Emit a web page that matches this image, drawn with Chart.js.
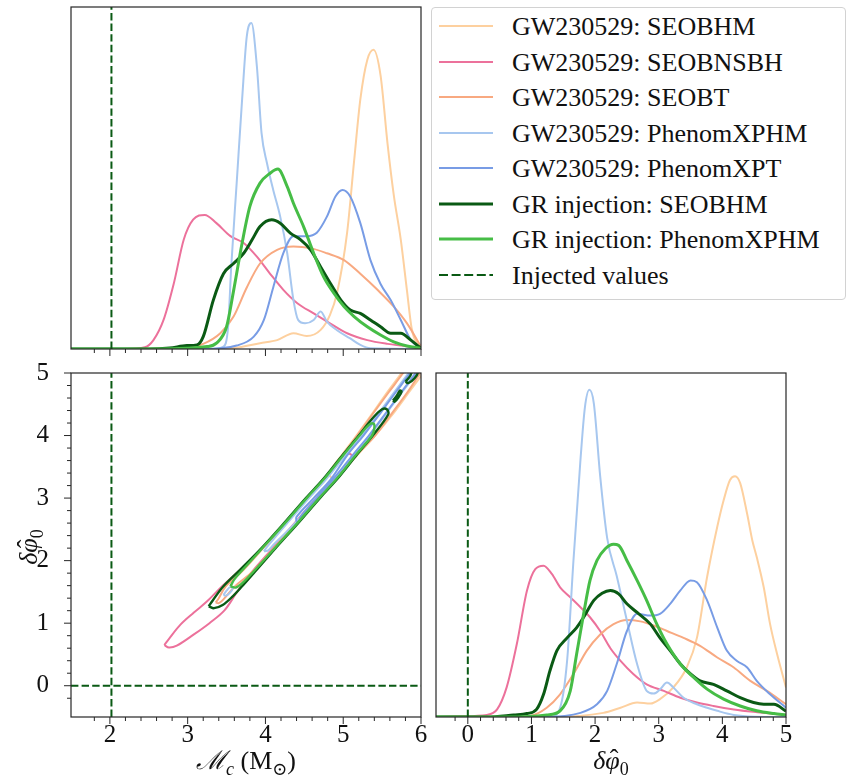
<!DOCTYPE html>
<html>
<head>
<meta charset="utf-8">
<script src="https://cdn.jsdelivr.net/npm/chart.js@4.4.1/dist/chart.umd.min.js"></script>
<style>
  body { margin: 0; background: #fff; }
  #wrap { position: relative; width: 851px; height: 779px; font-family: "Liberation Serif", "DejaVu Serif", serif; }
  #wrap canvas { position: absolute; left: 0; top: 0; }
  #legend { position: absolute; left: 431px; top: 7px; width: 415px; height: 293px; box-sizing: border-box;
            border: 1px solid #d2d2d2; border-radius: 4px; background: #fff; }
  .row { position: absolute; left: 0; height: 36px; display: flex; align-items: center; white-space: nowrap;
         font-size: 26px; color: #111; }
  .row svg { margin-left: 7px; margin-right: 19px; }
  .row span { position: relative; top: 1px; }
</style>
</head>
<body>
<div id="wrap">
  <canvas id="mc" width="851" height="779"></canvas>
  <canvas id="joint" width="851" height="779"></canvas>
  <canvas id="dphi" width="851" height="779"></canvas>
  <div id="legend"></div>
</div>
<script>
// series (legend order)
const seriesNames = ['GW230529: SEOBHM', 'GW230529: SEOBNSBH', 'GW230529: SEOBT', 'GW230529: PhenomXPHM',
                     'GW230529: PhenomXPT', 'GR injection: SEOBHM', 'GR injection: PhenomXPHM'];
const seriesColors = ['#fdd09f', '#ec719b', '#f8a981', '#a7c7ef', '#789ce5', '#0a5a14', '#46bd46'];
const seriesWidths = [2, 2, 2, 2, 2, 3, 3];
const injectedLabel = 'Injected values';
const injectedColor = '#0a5a14';
const injectedMc = 2.02;
const injectedDphi = 0;

const mcRange = [1.5, 6];
const dphiRange = [-0.5, 5];

// 1D marginals of chirp mass: [Mc, density as fraction of panel height]
const mcSeobhm = [[1.5,0],[3.3,0],[3.6,0.003],[3.93,0.017],[4.15,0.026],[4.36,0.046],[4.53,0.038],[4.71,0.056],[4.83,0.10],[4.92,0.163],[5.05,0.34],[5.14,0.55],[5.22,0.73],[5.31,0.846],[5.39,0.875],[5.48,0.80],[5.57,0.60],[5.65,0.45],[5.74,0.32],[5.82,0.17],[5.88,0.06],[5.95,0.015],[6.0,0.005]];
const mcSeobnsbh = [[1.5,0],[2.2,0],[2.45,0.005],[2.56,0.026],[2.69,0.085],[2.82,0.19],[2.95,0.32],[3.07,0.378],[3.22,0.392],[3.37,0.368],[3.55,0.33],[3.72,0.31],[3.89,0.27],[4.06,0.22],[4.23,0.173],[4.41,0.134],[4.62,0.104],[4.83,0.075],[5.05,0.046],[5.31,0.026],[5.57,0.015],[6.0,0.003]];
const mcSeobt = [[1.5,0],[2.9,0],[3.2,0.015],[3.42,0.046],[3.59,0.095],[3.76,0.18],[3.93,0.25],[4.15,0.29],[4.36,0.30],[4.58,0.295],[4.79,0.28],[5.01,0.26],[5.22,0.22],[5.44,0.173],[5.65,0.124],[5.82,0.075],[6.0,0.007]];
const mcXphm = [[1.5,0],[3.3,0],[3.46,0.007],[3.52,0.065],[3.56,0.24],[3.63,0.485],[3.70,0.73],[3.76,0.914],[3.82,0.953],[3.89,0.826],[3.95,0.631],[4.02,0.543],[4.10,0.465],[4.19,0.387],[4.28,0.28],[4.36,0.143],[4.42,0.085],[4.51,0.075],[4.62,0.085],[4.71,0.11],[4.79,0.08],[4.92,0.055],[5.09,0.031],[5.22,0.012],[5.35,0.002],[6.0,0]];
const mcXpt = [[1.5,0],[3.2,0],[3.63,0.01],[3.85,0.036],[3.98,0.085],[4.1,0.18],[4.23,0.28],[4.36,0.33],[4.53,0.33],[4.66,0.34],[4.79,0.387],[4.9,0.446],[4.99,0.465],[5.09,0.446],[5.22,0.368],[5.35,0.26],[5.48,0.19],[5.61,0.143],[5.74,0.085],[5.87,0.026],[6.0,0.002]];
const mcInjSeobhm = [[1.5,0],[2.5,0],[2.77,0.003],[2.99,0.01],[3.12,0.012],[3.2,0.036],[3.33,0.143],[3.46,0.22],[3.59,0.25],[3.72,0.28],[3.83,0.32],[3.93,0.358],[4.08,0.378],[4.19,0.368],[4.32,0.339],[4.45,0.32],[4.58,0.29],[4.71,0.24],[4.84,0.19],[4.97,0.143],[5.09,0.114],[5.22,0.104],[5.35,0.085],[5.48,0.065],[5.61,0.046],[5.74,0.046],[5.87,0.026],[6.0,0.002]];
const mcInjXphm = [[1.5,0],[2.6,0],[3.25,0.007],[3.37,0.017],[3.5,0.065],[3.59,0.17],[3.7,0.31],[3.8,0.417],[3.93,0.485],[4.06,0.514],[4.16,0.526],[4.28,0.475],[4.36,0.426],[4.49,0.358],[4.62,0.28],[4.75,0.21],[4.88,0.163],[5.01,0.124],[5.14,0.095],[5.31,0.065],[5.48,0.041],[5.65,0.021],[5.82,0.009],[6.0,0.002]];

// 1D marginals of delta phi_0
const dpSeobhm = [[-0.5,0],[1.3,0],[2.13,0.012],[2.4,0.027],[2.66,0.042],[2.87,0.039],[3.02,0.052],[3.23,0.086],[3.44,0.144],[3.6,0.23],[3.76,0.407],[3.92,0.553],[4.02,0.63],[4.12,0.689],[4.2,0.70],[4.28,0.68],[4.39,0.59],[4.47,0.514],[4.54,0.465],[4.65,0.377],[4.75,0.27],[4.86,0.183],[5.0,0.086]];
const dpSeobnsbh = [[-0.5,0],[-0.12,0.002],[0.3,0.006],[0.46,0.022],[0.61,0.086],[0.77,0.212],[0.93,0.368],[1.06,0.43],[1.19,0.44],[1.32,0.416],[1.45,0.377],[1.61,0.348],[1.77,0.319],[1.92,0.29],[2.08,0.25],[2.24,0.2],[2.4,0.163],[2.6,0.125],[2.81,0.095],[3.08,0.076],[3.34,0.056],[3.6,0.042],[3.86,0.032],[4.18,0.022],[4.49,0.015],[5.0,0.006]];
const dpSeobt = [[-0.5,0],[0.7,0],[0.98,0.003],[1.24,0.027],[1.45,0.066],[1.66,0.125],[1.87,0.193],[2.08,0.24],[2.29,0.27],[2.5,0.282],[2.71,0.278],[2.92,0.266],[3.13,0.25],[3.39,0.23],[3.65,0.207],[3.92,0.173],[4.18,0.144],[4.44,0.105],[4.7,0.076],[5.0,0.037]];
const dpXphm = [[-0.5,0],[1.3,0],[1.45,0.027],[1.56,0.163],[1.66,0.455],[1.77,0.747],[1.84,0.90],[1.91,0.951],[1.98,0.912],[2.08,0.70],[2.19,0.52],[2.34,0.41],[2.5,0.28],[2.66,0.154],[2.81,0.076],[2.92,0.068],[3.02,0.08],[3.13,0.10],[3.23,0.086],[3.39,0.056],[3.6,0.037],[3.76,0.027],[3.92,0.018],[4.18,0.006],[4.5,0.001],[5.0,0]];
const dpXpt = [[-0.5,0],[1.2,0],[1.77,0.012],[2.03,0.037],[2.19,0.076],[2.34,0.154],[2.5,0.25],[2.66,0.30],[2.87,0.295],[3.02,0.30],[3.18,0.329],[3.34,0.368],[3.5,0.397],[3.6,0.392],[3.76,0.339],[3.92,0.26],[4.07,0.193],[4.23,0.163],[4.39,0.144],[4.54,0.105],[4.75,0.066],[5.0,0.027]];
const dpInjSeobhm = [[-0.5,0],[0.3,0],[0.72,0.006],[0.93,0.01],[1.08,0.022],[1.19,0.066],[1.29,0.134],[1.4,0.193],[1.56,0.23],[1.71,0.26],[1.82,0.29],[1.98,0.339],[2.11,0.36],[2.24,0.368],[2.37,0.358],[2.5,0.329],[2.66,0.304],[2.87,0.27],[3.02,0.23],[3.18,0.193],[3.34,0.154],[3.5,0.125],[3.65,0.105],[3.86,0.095],[4.07,0.076],[4.28,0.056],[4.49,0.042],[4.65,0.037],[4.81,0.037],[5.0,0.017]];
const dpInjXphm = [[-0.5,0],[0.6,0],[1.24,0.006],[1.45,0.018],[1.61,0.076],[1.71,0.183],[1.82,0.30],[1.92,0.397],[2.03,0.455],[2.16,0.489],[2.29,0.502],[2.37,0.499],[2.5,0.455],[2.66,0.397],[2.81,0.339],[2.97,0.27],[3.13,0.212],[3.34,0.154],[3.55,0.115],[3.76,0.081],[4.02,0.052],[4.28,0.032],[4.54,0.018],[4.81,0.01],[5.0,0.006]];

// 2D credible contours: closed loops of [Mc, delta phi_0]
const ctSeobhm = [[[4.86,3.30],[4.82,3.40],[4.99,3.70],[5.17,4.0],[5.39,4.38],[5.57,4.7],[5.75,5.0],[5.89,5.25],[6.17,5.25],[6.03,5.0],[5.85,4.7],[5.66,4.38],[5.41,4.0],[5.19,3.7],[4.98,3.40],[4.92,3.30],[4.86,3.30]]];
const ctSeobnsbh = [[[2.70,0.65],[2.76,0.75],[2.91,0.98],[3.08,1.17],[3.25,1.35],[3.45,1.60],[3.74,1.93],[4.02,2.28],[4.32,2.70],[4.62,3.12],[4.90,3.52],[5.04,3.70],[5.10,3.70],[5.10,3.62],[4.88,3.30],[4.62,2.95],[4.34,2.55],[4.08,2.18],[3.80,1.78],[3.62,1.47],[3.47,1.20],[3.28,1.00],[3.08,0.82],[2.86,0.64],[2.76,0.61],[2.70,0.65]]];
const ctSeobt = [[[3.36,1.33],[3.40,1.40],[3.49,1.59],[3.70,1.83],[3.97,2.2],[4.26,2.6],[4.54,3.0],[4.76,3.3],[5.00,3.7],[5.18,4.0],[5.40,4.38],[5.59,4.7],[5.77,5.0],[5.88,5.2],[6.10,5.2],[5.99,5.0],[5.83,4.7],[5.64,4.38],[5.41,4.0],[5.18,3.7],[4.90,3.3],[4.68,3.0],[4.40,2.6],[4.11,2.2],[3.84,1.83],[3.61,1.59],[3.46,1.38],[3.40,1.32],[3.36,1.33]]];
const ctXphm = [[[3.98,2.15],[4.02,2.22],[4.28,2.6],[4.56,3.0],[4.78,3.3],[5.04,3.7],[5.24,4.0],[5.47,4.38],[5.66,4.7],[5.84,5.0],[5.95,5.2],[6.05,5.2],[5.94,5.0],[5.76,4.7],[5.57,4.38],[5.34,4.0],[5.14,3.7],[4.88,3.3],[4.66,3.0],[4.38,2.6],[4.10,2.25],[4.03,2.16],[3.98,2.15]],
                [[3.46,1.45],[3.50,1.52],[3.55,1.58],[3.58,1.56],[3.54,1.48],[3.49,1.44],[3.46,1.45]]];
const ctXpt = [[[4.40,2.62],[4.40,2.70],[4.62,3.0],[4.84,3.3],[5.06,3.7],[5.26,4.0],[5.49,4.38],[5.68,4.7],[5.86,5.0],[5.97,5.2],[6.04,5.2],[5.93,5.0],[5.75,4.7],[5.56,4.38],[5.33,4.0],[5.13,3.7],[4.87,3.3],[4.66,3.0],[4.45,2.7],[4.43,2.62],[4.40,2.62]]];
const ctInjSeobhm = [[[3.27,1.27],[3.32,1.36],[3.46,1.59],[3.68,1.86],[3.95,2.2],[4.24,2.6],[4.52,3.0],[4.74,3.3],[5.00,3.7],[5.20,4.0],[5.38,4.28],[5.50,4.42],[5.56,4.42],[5.58,4.34],[5.38,4.0],[5.18,3.7],[4.92,3.3],[4.70,3.0],[4.42,2.6],[4.13,2.2],[3.87,1.83],[3.70,1.59],[3.58,1.43],[3.45,1.29],[3.34,1.24],[3.27,1.27]],
                     [[5.64,4.56],[5.69,4.64],[5.73,4.72],[5.75,4.70],[5.71,4.61],[5.66,4.54],[5.64,4.56]],
                     [[5.80,4.86],[5.86,4.95],[5.90,5.05],[5.96,5.02],[5.92,4.92],[5.84,4.84],[5.80,4.86]]];
const ctInjXphm = [[[3.55,1.59],[3.60,1.70],[3.69,1.83],[3.96,2.2],[4.25,2.6],[4.53,3.0],[4.75,3.3],[5.01,3.7],[5.21,4.0],[5.33,4.17],[5.39,4.19],[5.40,4.12],[5.37,4.0],[5.17,3.7],[4.91,3.3],[4.69,3.0],[4.41,2.6],[4.12,2.2],[3.85,1.83],[3.72,1.66],[3.62,1.57],[3.55,1.59]]];

const mcMarginals = [mcSeobhm, mcSeobnsbh, mcSeobt, mcXphm, mcXpt, mcInjSeobhm, mcInjXphm];
const dpMarginals = [dpSeobhm, dpSeobnsbh, dpSeobt, dpXphm, dpXpt, dpInjSeobhm, dpInjXphm];
const contours = [ctSeobhm, ctSeobnsbh, ctSeobt, ctXphm, ctXpt, ctInjSeobhm, ctInjXphm];

const SERIF = '"Liberation Serif", "DejaVu Serif", serif';
const W = 851, H = 779;
const toXY = arr => arr.map(p => ({x: p[0], y: p[1]}));

// text with sub-scripts (and a hat accent), drawn on the canvas
function richText(ctx, parts, x, y, size, vertical) {
  const font = p => (p.i ? 'italic ' : '') + Math.round(p.s ? size * 0.7 : size) + 'px ' + SERIF;
  ctx.save();
  ctx.translate(x, y);
  if (vertical) ctx.rotate(-Math.PI / 2);
  ctx.fillStyle = '#111';
  ctx.textBaseline = 'alphabetic';
  const widths = parts.map(p => { ctx.font = font(p); return ctx.measureText(p.t).width; });
  let cx = -widths.reduce((a, b) => a + b, 0) / 2;
  parts.forEach((p, k) => {
    ctx.font = font(p);
    ctx.fillText(p.t, cx, p.s ? size * 0.22 : 0);
    if (p.hat) {
      ctx.font = size + 'px ' + SERIF;
      ctx.textAlign = 'center';
      ctx.fillText('ˆ', cx + widths[k] / 2 + size * 0.06, -size * 0.08);
      ctx.textAlign = 'left';
    }
    cx += widths[k];
  });
  ctx.restore();
}

const decor = {
  id: 'decor',
  afterDraw(chart, args, o) {
    const ctx = chart.ctx, a = chart.chartArea;
    ctx.save();
    ctx.strokeStyle = '#262626';
    ctx.lineWidth = 1.2;
    ctx.strokeRect(a.left, a.top, a.right - a.left, a.bottom - a.top);
    ctx.lineWidth = 1;
    const drawTicks = (scale, horiz) => {
      scale.ticks.forEach(t => {
        const v = t.value;
        if (Math.abs(v * 5 - Math.round(v * 5)) > 1e-6) return;
        const len = Math.abs(v - Math.round(v)) < 1e-6 ? 7 : 4;
        const p = scale.getPixelForValue(v);
        ctx.beginPath();
        if (horiz) { ctx.moveTo(p, a.bottom); ctx.lineTo(p, a.bottom + len); }
        else { ctx.moveTo(a.left, p); ctx.lineTo(a.left - len, p); }
        ctx.stroke();
      });
    };
    if (o.xTicks) drawTicks(chart.scales.x, true);
    if (o.yTicks) drawTicks(chart.scales.y, false);
    ctx.restore();
    if (o.xTitle) richText(ctx, o.xTitle, (a.left + a.right) / 2, 769, 26, false);
    if (o.yTitle) richText(ctx, o.yTitle, 37, (a.top + a.bottom) / 2 + 2, 26, true);
  }
};

const mcTitle = [{t: 'ℳ', i: true}, {t: 'c', i: true, s: true}, {t: ' (M'}, {t: '⊙', s: true}, {t: ')'}];
const dpTitle = [{t: 'δ', i: true}, {t: 'φ', i: true, hat: true}, {t: '0', s: true}];

function intLabel(v) {
  return Math.abs(v - Math.round(v)) < 1e-6 ? String(Math.round(v)) : '';
}

function axis(range, opts) {
  return {
    type: 'linear', min: range[0], max: range[1],
    display: opts.display !== false,
    grid: {display: false, drawTicks: false},
    border: {display: false},
    ticks: {
      display: !!opts.labels, stepSize: 0.2, autoSkip: false, maxRotation: 0, minRotation: 0,
      padding: opts.pad || 0, color: '#111', font: {family: SERIF, size: 25, lineHeight: 1.2},
      callback: intLabel
    },
    afterFit(s) {
      if (opts.size !== undefined) { if (s.isHorizontal()) s.height = opts.size; else s.width = opts.size; }
      s.paddingLeft = 0; s.paddingRight = 0; s.paddingTop = 0; s.paddingBottom = 0;
    }
  };
}

function lineSet(points, k, extra) {
  return Object.assign({
    data: toXY(points), borderColor: seriesColors[k], borderWidth: seriesWidths[k],
    pointRadius: 0, fill: false, order: 20 - k
  }, extra || {});
}

function dashSet(points) {
  return {data: toXY(points), borderColor: injectedColor, borderWidth: 2, borderDash: [7.4, 3.2],
          pointRadius: 0, fill: false, tension: 0, order: 1};
}

function makeChart(id, area, xAxis, yAxis, datasets, decorOpts, yShown, xSize) {
  return new Chart(document.getElementById(id), {
    type: 'line',
    data: {datasets},
    options: {
      responsive: false, animation: false, events: [],
      layout: {padding: {left: area[0] - (yShown ? 60 : 0), top: area[1], right: W - area[2], bottom: H - area[3] - xSize}},
      plugins: {legend: {display: false}, tooltip: {enabled: false}, decor: decorOpts},
      scales: {x: xAxis, y: yAxis}
    },
    plugins: [decor]
  });
}

// top-left: Mc marginal
makeChart('mc', [71, 7, 421, 349],
  axis(mcRange, {labels: false, size: 10}),
  axis([0, 1], {display: false}),
  mcMarginals.map((m, k) => lineSet(m, k, {cubicInterpolationMode: 'monotone'}))
    .concat([dashSet([[injectedMc, 0], [injectedMc, 1]])]),
  {xTicks: true}, false, 10);

// bottom-left: joint Mc / delta phi contours
const jointSets = [];
contours.forEach((loops, k) => loops.forEach(loop => jointSets.push(lineSet(loop, k, {tension: 0.35, borderWidth: k >= 5 ? 2.4 : 2}))));
jointSets.push(dashSet([[injectedMc, dphiRange[0]], [injectedMc, dphiRange[1]]]));
jointSets.push(dashSet([[mcRange[0], injectedDphi], [mcRange[1], injectedDphi]]));
makeChart('joint', [71, 373, 421, 717],
  axis(mcRange, {labels: true, pad: 3, size: 40}),
  axis(dphiRange, {labels: true, pad: 22, size: 60}),
  jointSets, {xTicks: true, yTicks: true, xTitle: mcTitle, yTitle: dpTitle}, true, 40);

// bottom-right: delta phi marginal
makeChart('dphi', [436, 373, 786, 717],
  axis(dphiRange, {labels: true, pad: 3, size: 40}),
  axis([0, 1], {display: false}),
  dpMarginals.map((m, k) => lineSet(m, k, {cubicInterpolationMode: 'monotone'}))
    .concat([dashSet([[injectedDphi, 0], [injectedDphi, 1]])]),
  {xTicks: true, xTitle: dpTitle}, false, 40);

// legend
const legend = document.getElementById('legend');
const items = seriesNames.map((n, k) => ({name: n, color: seriesColors[k], width: seriesWidths[k], dash: ''}))
  .concat([{name: injectedLabel, color: injectedColor, width: 2.2, dash: '9 3.6'}]);
items.forEach((it, k) => {
  const row = document.createElement('div');
  row.className = 'row';
  row.style.top = (0.3 + 35.5 * k) + 'px';
  row.innerHTML = '<svg width="54" height="8"><line x1="0" y1="4" x2="54" y2="4" stroke="' + it.color +
    '" stroke-width="' + it.width + '"' + (it.dash ? ' stroke-dasharray="' + it.dash + '"' : '') + '/></svg>' +
    '<span>' + it.name + '</span>';
  legend.appendChild(row);
});
</script>
</body>
</html>
